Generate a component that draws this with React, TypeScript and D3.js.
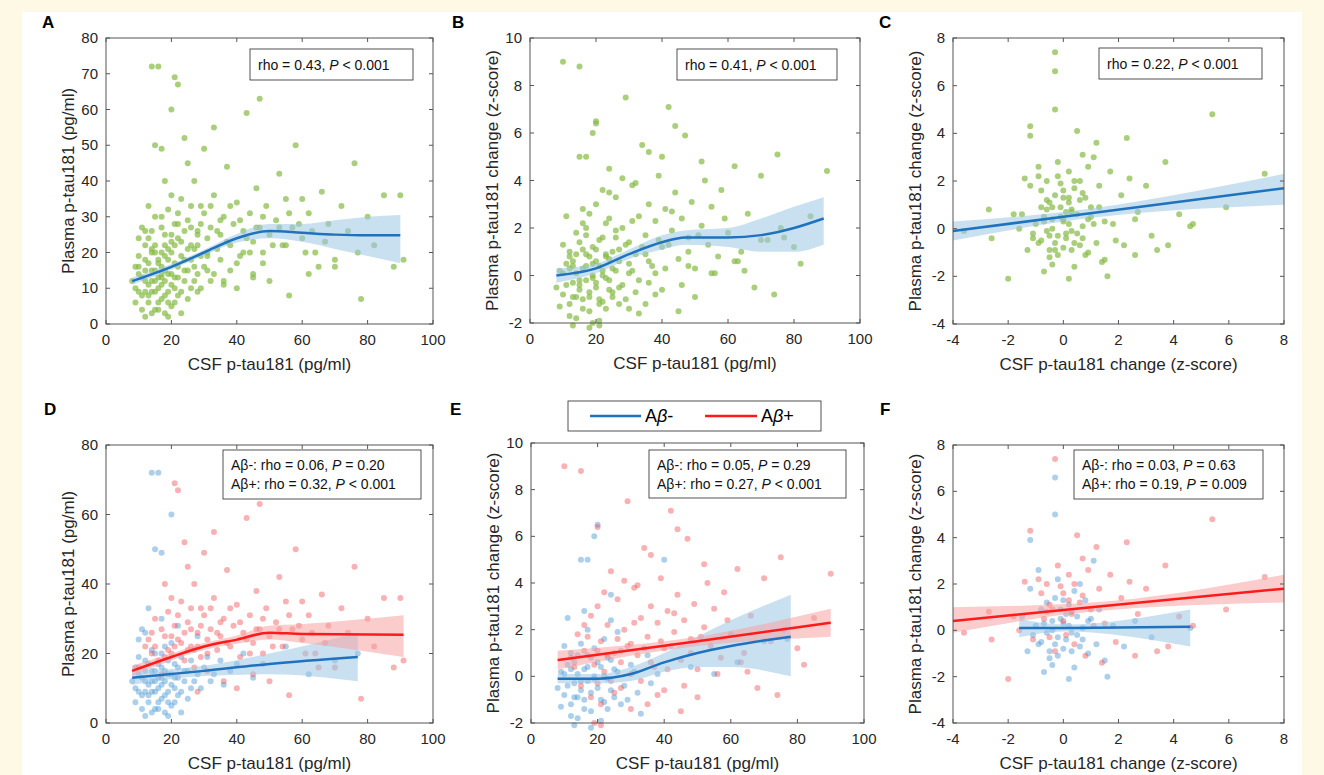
import React from "react";
import * as d3 from "d3";

type P = [number, number, number];
const dataA: P[] = [
[9,10,0],[10,14,0],[11,8,0],[12,12,0],[12,18,0],[13,6,0],[13,11,0],[14,15,0],[14,9,0],[15,20,0],[15,4,0],[16,13,0],[16,10,0],[17,7,0],[17,16,0],[18,12,0],[18,22,0],[19,9,0],[19,14,0],[20,11,0],[20,5,0],[21,17,0],[22,13,0],[22,8,0],[23,19,0],[24,12,0],[25,15,0],[26,10,0],[27,21,0],[28,14,0],[30,16,0],[32,12,0],[35,18,0],[38,15,0],[42,20,0],[48,17,0],[55,22,0],[62,14,0],[70,18,0],[77,20,0],[14,72,0],[16,72,0],[15,50,0],[17,49,0],[20,60,0],[10,24,0],[12,2,0],[18,3,0],[11,27,0],[13,33,0],[9,6,0],[11,4,0],[14,3,0],[16,6,0],[19,2,0],[21,6,0],[23,3,0],[15,12,0],[17,11,0],[12,9,0],
[8,12,0],[9,16,0],[10,9,0],[10,19,0],[11,13,0],[12,15,0],[13,17,0],[13,8,0],[14,12,0],[14,21,0],[15,9,0],[15,15,0],[16,17,0],[16,4,0],[17,13,0],[17,20,0],[18,8,0],[18,15,0],[19,18,0],[19,6,0],[20,14,0],[20,23,0],[21,10,0],[21,13,0],[22,16,0],[23,9,0],[24,15,0],[25,7,0],[26,18,0],[27,12,0],[29,10,0],[31,19,0],[33,14,0],[36,11,0],[40,17,0],[45,13,0],[12,26,0],[17,30,0],[22,28,0],[28,25,0],
[10,16,1],[12,22,1],[14,26,1],[15,30,1],[16,18,1],[18,25,1],[19,32,1],[20,20,1],[21,28,1],[22,24,1],[23,35,1],[24,18,1],[25,29,1],[26,22,1],[27,40,1],[28,26,1],[29,19,1],[30,31,1],[31,24,1],[32,27,1],[33,36,1],[34,21,1],[35,25,1],[36,30,1],[37,44,1],[38,22,1],[39,28,1],[40,34,1],[41,19,1],[42,26,1],[43,59,1],[44,31,1],[45,23,1],[46,38,1],[47,27,1],[48,20,1],[49,33,1],[50,25,1],[52,29,1],[53,42,1],[54,22,1],[55,35,1],[57,27,1],[58,50,1],[60,24,1],[62,31,1],[64,20,1],[66,37,1],[68,28,1],[70,16,1],[72,33,1],[74,26,1],[76,45,1],[78,7,1],[80,30,1],[82,22,1],[85,36,1],[88,16,1],[91,18,1],[90,36,1],[21,69,1],[22,67,1],[47,63,1],[33,55,1],[25,45,1],[30,49,1],[18,40,1],[36,12,1],[40,10,1],[45,14,1],[28,9,1],[50,12,1],[56,8,1],[60,35,1],[65,16,1],[24,52,1],[17,14,1],[14,20,1],[20,36,1],[27,16,1],[29,33,1],[31,15,1],[26,27,1],[23,23,1],[19,21,1],
[13,24,1],[15,22,1],[17,27,1],[18,19,1],[20,25,1],[21,22,1],[22,31,1],[24,26,1],[25,21,1],[26,33,1],[28,22,1],[29,28,1],[31,20,1],[32,33,1],[34,26,1],[35,29,1],[37,23,1],[38,33,1],[41,29,1],[43,24,1],[44,20,1],[46,27,1],[48,30,1],[51,22,1],[53,27,1],[56,31,1],[59,28,1],[61,20,1],[63,26,1],[67,23,1]
];
const dataB: P[] = [
[9,0.2,0],[10,-0.8,0],[11,0.5,0],[12,-1.2,0],[12,1.0,0],[13,-0.3,0],[13,0.6,0],[14,-1.8,0],[14,0.1,0],[15,1.4,0],[15,-0.6,0],[16,0.3,0],[16,-1.0,0],[17,2.0,0],[17,-0.2,0],[18,0.8,0],[18,-1.5,0],[19,0.0,0],[19,1.2,0],[20,-0.5,0],[20,6.5,0],[21,0.4,0],[22,-1.1,0],[22,1.6,0],[23,-0.1,0],[24,0.7,0],[25,-0.9,0],[26,0.2,0],[27,1.1,0],[28,-0.4,0],[30,0.5,0],[32,-0.7,0],[35,0.9,0],[38,0.1,0],[42,1.3,0],[48,0.4,0],[55,0.1,0],[62,0.6,0],[70,1.5,0],[77,1.6,0],[11,2.5,0],[13,-2.1,0],[16,2.8,0],[19,6.0,0],[21,-1.9,0],[24,2.4,0],[10,1.3,0],[14,-0.9,0],[17,0.9,0],[23,-1.4,0],[26,1.9,0],[29,-1.0,0],
[8,-0.5,0],[9,-1.3,0],[10,0.1,0],[11,-0.4,0],[12,0.3,0],[13,-0.9,0],[14,0.9,0],[15,-0.2,0],[16,-1.4,0],[17,0.4,0],[18,-0.7,0],[19,-0.1,0],[20,0.6,0],[21,-1.0,0],[22,0.0,0],[23,0.8,0],[24,-0.6,0],[25,0.3,0],[27,-1.2,0],[31,0.2,0],[33,-1.6,0],[15,5.0,0],[17,5.0,0],[40,5.0,0],[12,-1.7,0],[18,-2.2,0],[24,3.5,0],[36,-0.3,0],
[10,9.0,1],[15,8.8,1],[12,0.8,1],[14,1.8,1],[16,1.1,1],[18,2.6,1],[19,0.5,1],[20,3.0,1],[21,1.5,1],[22,0.2,1],[23,2.2,1],[24,4.5,1],[25,1.0,1],[26,3.3,1],[27,0.6,1],[28,2.0,1],[29,7.5,1],[30,1.4,1],[31,3.8,1],[32,0.9,1],[33,2.5,1],[34,5.5,1],[35,1.7,1],[36,3.0,1],[37,0.4,1],[38,2.3,1],[39,4.2,1],[40,1.2,1],[41,2.8,1],[42,7.1,1],[43,1.9,1],[44,3.5,1],[45,0.7,1],[46,2.4,1],[47,5.9,1],[48,1.6,1],[49,3.1,1],[50,0.3,1],[52,2.1,1],[53,4.0,1],[54,1.3,1],[55,2.9,1],[57,0.8,1],[58,3.6,1],[60,1.8,1],[62,4.6,1],[64,1.0,1],[66,2.6,1],[68,-0.5,1],[70,4.2,1],[72,1.5,1],[74,-0.8,1],[76,2.0,1],[75,5.1,1],[80,1.2,1],[82,0.5,1],[85,2.5,1],[90,4.4,1],[35,-1.2,1],[40,-0.6,1],[45,-1.5,1],[50,-0.9,1],[25,-0.7,1],[30,-1.4,1],[20,-0.3,1],[52,4.8,1],[36,5.2,1],[44,6.3,1],[28,4.1,1],[32,3.9,1],[22,3.6,1],[65,0.2,1],
[13,0.4,1],[15,-0.4,1],[17,1.7,1],[18,-0.9,1],[20,1.1,1],[21,-1.2,1],[23,0.9,1],[24,-0.2,1],[26,1.6,1],[27,-0.5,1],[29,1.3,1],[30,0.1,1],[31,2.3,1],[33,-0.2,1],[34,1.2,1],[36,0.6,1],[38,-0.8,1],[39,1.5,1],[41,0.3,1],[43,2.7,1],[46,-0.4,1],[48,1.0,1],[51,1.7,1],[56,0.1,1],[59,2.4,1],[63,0.6,1],[20,6.4,1],[19,-2.0,1],[21,-2.1,1],[16,2.2,1]
];
const dataC: P[] = [
[-1.0,0.2,0],[-0.8,-0.5,0],[-0.6,0.8,0],[-0.5,-1.2,0],[-0.4,0.4,0],[-0.3,1.4,0],[-0.2,-0.3,0],[-0.1,0.9,0],[0.0,-0.8,0],[0.0,0.3,0],[-0.3,6.6,0],[-0.3,5.0,0],[0.2,1.1,0],[0.3,-0.1,0],[0.4,-1.6,0],[0.5,0.6,0],[0.6,2.0,0],[0.7,-0.4,0],[0.8,1.3,0],[0.9,-1.0,0],[1.0,0.5,0],[1.1,3.0,0],[1.2,-0.6,0],[1.3,0.9,0],[1.5,-1.3,0],[1.8,0.2,0],[2.2,-0.7,0],[2.6,0.4,0],[3.2,-0.3,0],[4.6,0.1,0],[-1.5,0.6,0],[-1.3,-0.9,0],[-1.2,1.8,0],[-0.9,2.6,0],[-0.7,-1.8,0],[0.2,-2.1,0],[-1.2,3.9,0],[1.6,-2.0,0],[-0.2,2.2,0],[0.4,1.7,0],[-0.6,-0.1,0],[0.7,0.1,0],
[-0.9,-0.6,0],[-0.7,0.3,0],[-0.5,-0.9,0],[-0.4,0.0,0],[-0.2,-1.1,0],[-0.1,0.5,0],[0.1,-0.4,0],[0.2,0.2,0],[0.3,-0.9,0],[0.5,-0.2,0],[-0.6,1.2,0],[-0.3,-0.6,0],[0.0,1.3,0],[0.1,0.7,0],[-0.8,0.9,0],[0.6,-0.7,0],[0.9,0.4,0],[-1.1,-0.2,0],[-0.4,-1.5,0],[0.3,0.8,0],
[-3.6,-0.1,1],[-2.7,0.8,1],[-2.6,-0.4,1],[-2.0,-2.1,1],[-1.8,0.6,1],[-1.4,2.1,1],[-1.1,-0.4,1],[-0.9,2.2,1],[-0.7,0.5,1],[-0.5,1.1,1],[-0.3,-0.9,1],[-0.2,2.8,1],[-0.3,7.4,1],[0.0,1.6,1],[0.1,-0.2,1],[0.2,2.4,1],[0.3,0.7,1],[0.5,4.1,1],[0.6,1.2,1],[0.8,-1.1,1],[0.9,2.6,1],[1.0,0.9,1],[1.2,3.6,1],[1.3,1.8,1],[1.5,0.3,1],[1.7,2.4,1],[1.9,-0.5,1],[2.1,1.4,1],[2.4,2.1,1],[2.7,0.7,1],[3.0,1.8,1],[3.4,-0.9,1],[3.7,2.8,1],[4.2,0.6,1],[4.7,0.2,1],[5.4,4.8,1],[7.3,2.3,1],[-1.2,4.3,1],[0.7,3.1,1],[1.4,-1.4,1],[2.3,3.8,1],[-1.6,0.0,1],[0.4,2.0,1],[3.8,-0.7,1],[5.9,0.9,1],[2.6,-1.1,1],
[-0.8,1.6,1],[-0.6,2.0,1],[-0.4,0.9,1],[-0.1,1.9,1],[0.2,1.3,1],[0.4,-0.6,1],[0.7,1.5,1],[1.1,0.2,1],[-0.5,-0.3,1],[0.0,0.4,1]
];

type Fit = [number, number, number, number][];
const fitA: Fit = [[8,12,11,13],[20,16,15.2,16.8],[30,20,19.2,20.8],[40,24,22.8,25.2],[50,26,24,28],[60,25.5,23,28],[70,25,21,29],[80,24.8,19,30],[90,24.8,17,30.5]];
const fitB: Fit = [[8,0,-0.3,0.3],[20,0.3,0.1,0.5],[30,0.9,0.7,1.1],[40,1.4,1.1,1.7],[47,1.6,1.3,1.9],[60,1.6,1.2,2.0],[70,1.7,1.0,2.4],[80,2.0,1.0,2.9],[89,2.4,1.3,3.3]];
const fitC: Fit = [[-4,-0.1,-0.5,0.3],[0,0.5,0.3,0.7],[8,1.7,1.0,2.3]];
const fitDneg: Fit = [[8,13,11,15],[30,15,13.5,16.5],[50,17,14,20],[77,19,12,26]];
const fitDpos: Fit = [[8,15,13.5,16.5],[20,19,18,20],[30,22,21,23],[40,24,22.8,25.2],[50,26,24,28],[60,25.6,23,28.5],[91,25.4,19,31]];
const fitEneg: Fit = [[8,-0.1,-0.3,0.1],[20,-0.1,-0.3,0.1],[30,0.1,-0.2,0.4],[40,0.6,0.2,1.0],[50,1.0,0.4,1.7],[60,1.3,0.4,2.4],[78,1.7,0.0,3.5]];
const fitEpos: Fit = [[8,0.7,0.3,1.1],[50,1.5,1.3,1.7],[90,2.3,1.7,2.9]];
const fitFpos: Fit = [[-4,0.4,-0.1,1.0],[1,1.0,0.8,1.2],[8,1.8,1.2,2.4]];
const fitFneg: Fit = [[-1.6,0.1,-0.3,0.5],[0,0.1,-0.05,0.25],[4.6,0.15,-0.7,0.9]];

const ticks100 = [0,20,40,60,80,100];
const ticks80 = [0,10,20,30,40,50,60,70,80];
const ticks80b = [0,20,40,60,80];
const ticksB = [-2,0,2,4,6,8,10];
const ticksC = [-4,-2,0,2,4,6,8];

const BLUE = "#1f72bd", RED = "#ff1a1a", GREEN = "#86bb45";
const FONT = "Liberation Sans, Arial, sans-serif";

interface Panel {
  letter: string; lx: number; ly: number;
  x0: number; x1: number; y0: number; y1: number;
  xd: [number, number]; yd: [number, number];
  xt: number[]; yt: number[];
  xl: string; yl: string;
  data: P[]; colored: boolean;
  fits: { f: Fit; c: string; fill: string }[];
  stats: { box: [number, number, number, number]; lines: [string, string, string][] };
}

const csfL = "CSF p-tau181 (pg/ml)", csfC = "CSF p-tau181 change (z-score)";
const plL = "Plasma p-tau181 (pg/ml)", plC = "Plasma p-tau181 change (z-score)";
const bf = "#9cc6e6", rf = "#f6a3a3";

const panels: Panel[] = [
  { letter: "A", lx: 42, ly: 28, x0: 106, x1: 433, y0: 38, y1: 324, xd: [0,100], yd: [0,80], xt: ticks100, yt: ticks80, xl: csfL, yl: plL, data: dataA, colored: false, fits: [{ f: fitA, c: BLUE, fill: bf }], stats: { box: [250,49,163,31], lines: [["rho = 0.43, ", "P", " < 0.001"]] } },
  { letter: "B", lx: 452, ly: 28, x0: 530, x1: 860, y0: 38, y1: 323, xd: [0,100], yd: [-2,10], xt: ticks100, yt: ticksB, xl: csfL, yl: plC, data: dataB, colored: false, fits: [{ f: fitB, c: BLUE, fill: bf }], stats: { box: [677,49,160,31], lines: [["rho = 0.41, ", "P", " < 0.001"]] } },
  { letter: "C", lx: 879, ly: 28, x0: 953, x1: 1284, y0: 38, y1: 324, xd: [-4,8], yd: [-4,8], xt: ticksC, yt: ticksC, xl: csfC, yl: plC, data: dataC, colored: false, fits: [{ f: fitC, c: BLUE, fill: bf }], stats: { box: [1099,48,163,31], lines: [["rho = 0.22, ", "P", " < 0.001"]] } },
  { letter: "D", lx: 44, ly: 415, x0: 106, x1: 433, y0: 445, y1: 723, xd: [0,100], yd: [0,80], xt: ticks100, yt: ticks80b, xl: csfL, yl: plL, data: dataA, colored: true, fits: [{ f: fitDneg, c: BLUE, fill: bf }, { f: fitDpos, c: RED, fill: rf }], stats: { box: [223,450,198,49], lines: [["Aβ-: rho = 0.06, ", "P", " = 0.20"], ["Aβ+: rho = 0.32, ", "P", " < 0.001"]] } },
  { letter: "E", lx: 450, ly: 415, x0: 531, x1: 864, y0: 443, y1: 723, xd: [0,100], yd: [-2,10], xt: ticks100, yt: ticksB, xl: csfL, yl: plC, data: dataB, colored: true, fits: [{ f: fitEneg, c: BLUE, fill: bf }, { f: fitEpos, c: RED, fill: rf }], stats: { box: [649,450,197,48], lines: [["Aβ-: rho = 0.05, ", "P", " = 0.29"], ["Aβ+: rho = 0.27, ", "P", " < 0.001"]] } },
  { letter: "F", lx: 880, ly: 415, x0: 953, x1: 1284, y0: 445, y1: 723, xd: [-4,8], yd: [-4,8], xt: ticksC, yt: ticksC, xl: csfC, yl: plC, data: dataC, colored: true, fits: [{ f: fitFneg, c: BLUE, fill: bf }, { f: fitFpos, c: RED, fill: rf }], stats: { box: [1074,450,189,49], lines: [["Aβ-: rho = 0.03, ", "P", " = 0.63"], ["Aβ+: rho = 0.19, ", "P", " = 0.009"]] } },
];

function PanelView({ p }: { p: Panel }) {
  const x = d3.scaleLinear().domain(p.xd).range([p.x0, p.x1]);
  const y = d3.scaleLinear().domain(p.yd).range([p.y1, p.y0]);
  const area = d3.area<[number, number, number, number]>().x(d => x(d[0])).y0(d => y(d[2])).y1(d => y(d[3])).curve(d3.curveMonotoneX);
  const line = d3.line<[number, number, number, number]>().x(d => x(d[0])).y(d => y(d[1])).curve(d3.curveMonotoneX);
  const pts = p.colored ? [...p.data].sort((a, b) => a[2] - b[2]) : p.data;
  const cx = (p.x0 + p.x1) / 2, cy = (p.y0 + p.y1) / 2;
  return (
    <g fontFamily={FONT}>
      <text x={p.lx} y={p.ly} fontSize={17} fontWeight="bold">{p.letter}</text>
      {pts.map((d, i) => (
        <circle key={i} cx={x(d[0])} cy={y(d[1])} r={3}
          fill={p.colored ? (d[2] ? "#f0474b" : "#3a8fd1") : GREEN}
          fillOpacity={p.colored ? 0.42 : 0.7} />
      ))}
      {p.fits.map((f, i) => <path key={"a" + i} d={area(f.f)!} fill={f.fill} fillOpacity={0.55} />)}
      {p.fits.map((f, i) => <path key={"l" + i} d={line(f.f)!} fill="none" stroke={f.c} strokeWidth={2.5} />)}
      <rect x={p.x0} y={p.y0} width={p.x1 - p.x0} height={p.y1 - p.y0} fill="none" stroke="#555" strokeWidth={1} />
      {p.xt.map(t => (
        <g key={"x" + t}>
          <line x1={x(t)} x2={x(t)} y1={p.y1} y2={p.y1 - 4} stroke="#555" />
          <line x1={x(t)} x2={x(t)} y1={p.y0} y2={p.y0 + 4} stroke="#555" />
          <text x={x(t)} y={p.y1 + 21} textAnchor="middle" fontSize={15} fill="#262626">{t}</text>
        </g>
      ))}
      {p.yt.map(t => (
        <g key={"y" + t}>
          <line x1={p.x0} x2={p.x0 + 4} y1={y(t)} y2={y(t)} stroke="#555" />
          <line x1={p.x1} x2={p.x1 - 4} y1={y(t)} y2={y(t)} stroke="#555" />
          <text x={p.x0 - 8} y={y(t) + 5} textAnchor="end" fontSize={15} fill="#262626">{t}</text>
        </g>
      ))}
      <text x={cx} y={p.y1 + 46} textAnchor="middle" fontSize={17} fill="#262626">{p.xl}</text>
      <text transform={`translate(${p.x0 - 32},${cy}) rotate(-90)`} textAnchor="middle" fontSize={17} fill="#262626">{p.yl}</text>
      <rect x={p.stats.box[0]} y={p.stats.box[1]} width={p.stats.box[2]} height={p.stats.box[3]} fill="white" stroke="#262626" strokeWidth={0.8} />
      {p.stats.lines.map((l, i) => (
        <text key={i} x={p.stats.box[0] + 8} y={p.stats.box[1] + (p.stats.lines.length > 1 ? 20 : 21) + i * 19} fontSize={14} fill="#111">
          {l[0]}<tspan fontStyle="italic">{l[1]}</tspan>{l[2]}
        </text>
      ))}
    </g>
  );
}

export default function App() {
  return (
    <svg width={1324} height={775} style={{ position: "absolute", left: 0, top: 0 }}>
      <rect width={1324} height={775} fill="#fdf9e4" />
      <rect x={22} y={12} width={1280} height={763} fill="white" />
      {panels.map(p => <PanelView key={p.letter} p={p} />)}
      <g fontFamily={FONT}>
        <rect x={568} y={401} width={253} height={30} fill="white" stroke="#262626" strokeWidth={0.8} />
        <line x1={590} x2={641} y1={416} y2={416} stroke={BLUE} strokeWidth={2.5} />
        <text x={645} y={422} fontSize={18}>A<tspan fontStyle="italic">β</tspan>-</text>
        <line x1={705} x2={757} y1={416} y2={416} stroke={RED} strokeWidth={2.5} />
        <text x={761} y={422} fontSize={18}>A<tspan fontStyle="italic">β</tspan>+</text>
      </g>
    </svg>
  );
}
